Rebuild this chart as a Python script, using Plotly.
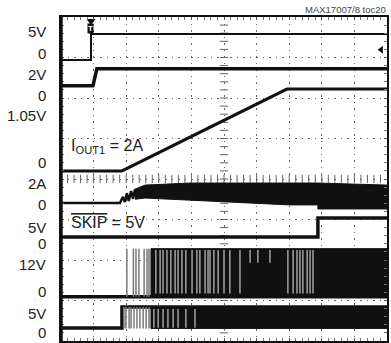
import plotly.graph_objects as go

# ---------------- data (scope screen divisions: time 0..10, amplitude 0..8) ----------------
LABEL_TEXT = ["5V", "0", "2V", "0", "1.05V", "0", "2A", "0", "5V", "0", "12V", "0", "5V", "0"]
LABEL_Y = [7.63, 7.11, 6.57, 6.07, 5.56, 4.40, 3.88, 3.36, 2.81, 2.40, 1.88, 1.23, 0.69, 0.20]

CH1_T = [0, 0.92, 0.92, 10]
CH1_V = [6.94, 6.94, 7.58, 7.58]
CH2_T = [0, 0.98, 1.10, 10]
CH2_V = [6.30, 6.30, 6.72, 6.72]
CH3_T = [0, 1.87, 6.93, 10]
CH3_V = [4.20, 4.20, 6.22, 6.22]
CH4_T = [0, 1.81, 1.90, 1.96, 2.02, 2.08, 2.15, 2.21, 2.27]
CH4_V = [3.41, 3.41, 3.56, 3.43, 3.65, 3.46, 3.70, 3.51, 3.75]
CH4_TOP_T = [2.27, 2.58, 3.96, 7.88, 10]
CH4_TOP_V = [3.75, 3.85, 3.90, 3.90, 3.85]
CH4_BOT_T = [10, 7.88, 7.88, 7.02, 5.80, 3.96, 2.58, 2.27]
CH4_BOT_V = [3.26, 3.26, 3.36, 3.36, 3.41, 3.48, 3.53, 3.50]
CH5_T = [0, 7.88, 7.88, 10]
CH5_V = [2.57, 2.57, 3.04, 3.04]
CH6_BASE = 1.09
CH6_HIGH = 2.28
CH6_SPIKES = [2.02, 2.22, 2.30, 2.39, 2.55, 2.64, 2.70]
CH6_BURST = [2.76, 10]
CH6_GAPS = [2.91, 3.04, 3.13, 3.25, 3.37, 3.50, 3.59, 3.71, 3.83, 4.02, 4.17, 4.26, 4.42,
            4.51, 4.57, 4.69, 4.82, 5.00, 5.18, 5.49, 6.96, 7.12, 7.24, 7.33, 7.42, 7.55,
            7.64, 7.73]
CH6_SHORT_GAPS = [5.80, 6.04, 6.41]
CH6_SHORT_LOW = 1.93
CH7_T = [0, 1.87, 1.87, 10]
CH7_V = [0.32, 0.32, 0.84, 0.84]
CH7_LOW = 0.31
CH7_SPIKES = [1.93, 1.99, 2.09, 2.15, 2.24, 2.33, 2.42, 2.52, 2.61, 2.70]
CH7_BURST = [2.76, 10]
CH7_GAPS = [2.85, 2.98, 3.13, 3.28, 3.44, 3.59, 3.83, 4.11]

TRIG_T, TRIG_V = 0.92, 7.90
ARROW_T, ARROW_V = 9.82, 7.19

# ---------------- layout helpers ----------------
W, H = 391, 343
L, R, T, B = 61, 387, 17, 341
FONT = "Liberation Sans, Arial, sans-serif"


def pxx(px):
    return (px - L) / (R - L)


def pxy(py):
    return 1 - (py - T) / (B - T)


def segs(xs, y0, y1):
    X, Y = [], []
    for x in xs:
        X += [x, x, None]
        Y += [y0, y1, None]
    return X, Y


fig = go.Figure()
BLACK = "#111111"


def line(x, y, w=3, color=BLACK, fill=None):
    fig.add_trace(go.Scatter(x=x, y=y, mode="lines", line=dict(color=color, width=w),
                             fill=fill, fillcolor=color if fill else None,
                             hoverinfo="skip", showlegend=False))


# center cross tick marks
cx = [i / 5 for i in range(1, 50)]
cy = [i / 5 for i in range(1, 40)]
fig.add_trace(go.Scatter(x=cx, y=[4] * len(cx), mode="markers",
                         marker=dict(symbol="line-ns", size=6, line=dict(width=1, color="#666")),
                         hoverinfo="skip", showlegend=False))
fig.add_trace(go.Scatter(x=[5] * len(cy), y=cy, mode="markers",
                         marker=dict(symbol="line-ew", size=6, line=dict(width=1, color="#666")),
                         hoverinfo="skip", showlegend=False))

# channel 1 and 2
line(CH1_T, CH1_V, 2)
line(CH2_T, CH2_V, 3.5)
# channel 3 ramp
line(CH3_T, CH3_V, 3)
# channel 4 inductor current
line(CH4_T, CH4_V, 2.5)
line(CH4_TOP_T + CH4_BOT_T, CH4_TOP_V + CH4_BOT_V, 1, fill="toself")
# channel 5 SKIP
line(CH5_T, CH5_V, 3.5)
# channel 6 LX
line([0, 10], [CH6_BASE, CH6_BASE], 3.5)
sx, sy = segs(CH6_SPIKES, CH6_BASE, CH6_HIGH)
line(sx, sy, 1.5, "#777777")
line([CH6_BURST[0], CH6_BURST[1], CH6_BURST[1], CH6_BURST[0], CH6_BURST[0]],
     [CH6_BASE, CH6_BASE, CH6_HIGH, CH6_HIGH, CH6_BASE], 1, fill="toself")
gx, gy = segs(CH6_GAPS, CH6_BASE + 0.08, CH6_HIGH - 0.03)
line(gx, gy, 1.3, "#b8b8b8")
gx, gy = segs(CH6_SHORT_GAPS, CH6_SHORT_LOW, CH6_HIGH - 0.03)
line(gx, gy, 1.3, "#b8b8b8")
# channel 7
line(CH7_T, CH7_V, 3.5)
sx, sy = segs(CH7_SPIKES, CH7_LOW, CH7_V[-1])
line(sx, sy, 1.5, "#777777")
line([CH7_BURST[0], CH7_BURST[1], CH7_BURST[1], CH7_BURST[0], CH7_BURST[0]],
     [CH7_LOW, CH7_LOW, CH7_V[-1], CH7_V[-1], CH7_LOW], 1, fill="toself")
gx, gy = segs(CH7_GAPS, CH7_LOW + 0.02, CH7_V[-1] - 0.05)
line(gx, gy, 1.3, "#b8b8b8")

# trigger / level markers
fig.add_trace(go.Scatter(x=[TRIG_T], y=[TRIG_V], mode="markers", cliponaxis=False,
                         marker=dict(symbol="triangle-down", size=8, color=BLACK),
                         hoverinfo="skip", showlegend=False))
fig.add_trace(go.Scatter(x=[ARROW_T], y=[ARROW_V], mode="markers",
                         marker=dict(symbol="triangle-left", size=7, color=BLACK),
                         hoverinfo="skip", showlegend=False))

ann = []
for t, y in zip(LABEL_TEXT, LABEL_Y):
    ann.append(dict(text=t, xref="paper", yref="y", x=pxx(48), y=y, xanchor="right",
                    yanchor="middle", showarrow=False,
                    font=dict(family=FONT, size=15, color="#222")))
ann.append(dict(text="I<sub>OUT1</sub> = 2A", xref="paper", yref="paper", x=pxx(69),
                y=pxy(146), xanchor="left", yanchor="middle", showarrow=False,
                font=dict(family=FONT, size=16, color="#222")))
ann.append(dict(text="<span style='text-decoration:overline'>SKIP</span> = 5V", xref="paper",
                yref="paper", x=pxx(69), y=pxy(222), xanchor="left", yanchor="middle",
                showarrow=False, font=dict(family=FONT, size=16, color="#222")))
ann.append(dict(text="MAX17007/8 toc20", xref="paper", yref="paper", x=pxx(388), y=pxy(10),
                xanchor="right", yanchor="middle", showarrow=False,
                font=dict(family=FONT, size=9.5, color="#444")))
ann.append(dict(text="<b>(HEAVY LOAD)</b>", xref="paper", yref="paper", x=pxx(224), y=pxy(1.5),
                xanchor="center", yanchor="bottom", showarrow=False, borderpad=0,
                font=dict(family=FONT, size=15, color="#222")))
ann.append(dict(text="<b>T</b>", xref="x", yref="paper", x=TRIG_T, y=pxy(29),
                xanchor="center", yanchor="middle", showarrow=False, bgcolor=BLACK,
                borderpad=0, font=dict(family=FONT, size=8, color="white")))

axis_common = dict(showline=True, linewidth=2, linecolor=BLACK, mirror="ticks",
                   showticklabels=False, zeroline=False, dtick=1,
                   showgrid=True, gridcolor="#666666", griddash="1.5px,5px", gridwidth=1,
                   ticks="inside", ticklen=3, tickcolor="#555",
                   minor=dict(dtick=0.2, ticks="inside", ticklen=3, tickcolor="#777",
                              showgrid=False))
fig.update_layout(
    width=W, height=H, margin=dict(l=L, r=W - R, t=T, b=H - B),
    paper_bgcolor="white", plot_bgcolor="white",
    xaxis=dict(range=[0, 10], **axis_common),
    yaxis=dict(range=[0, 8], **axis_common),
    annotations=ann, showlegend=False, hovermode=False,
    shapes=[dict(type="line", xref="paper", yref="paper", x0=0, x1=0, y0=0, y1=1,
                 line=dict(color=BLACK, width=3.5))],
)
fig.write_html("out.html", config=dict(displayModeBar=False),
               post_script="document.body.style.margin='0';document.body.style.overflow='hidden';")
